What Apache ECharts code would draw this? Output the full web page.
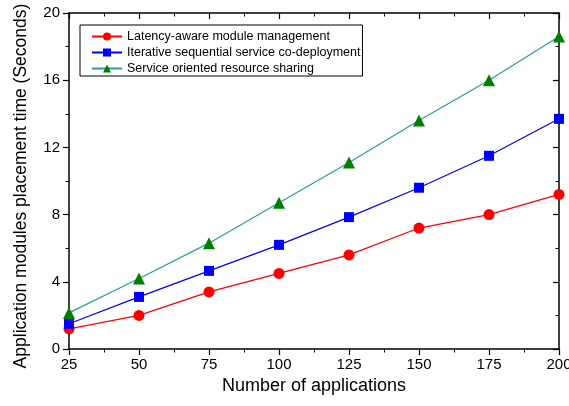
<!DOCTYPE html>
<html><head><meta charset="utf-8">
<script src="https://cdn.jsdelivr.net/npm/echarts@6/dist/echarts.min.js"></script>
<style>html,body{margin:0;padding:0;background:#fff}#c{width:569px;height:406px}</style>
</head><body><div id="c"></div>
<script>
var xValues = [25, 50, 75, 100, 125, 150, 175, 200];
var latency = [1.2, 2.0, 3.4, 4.5, 5.6, 7.2, 8.0, 9.2];
var iterative = [1.5, 3.1, 4.65, 6.2, 7.85, 9.6, 11.5, 13.7];
var serviceOriented = [2.15, 4.2, 6.3, 8.7, 11.1, 13.6, 16.0, 18.6];
var seriesNames = ['Latency-aware module management', 'Iterative sequential service co-deployment', 'Service oriented resource sharing'];

function pairs(v){ return xValues.map(function(x,i){return [x, v[i]];}); }
var font = 'Liberation Sans, Arial, sans-serif';
function axisStyle(inside){
  return {
    axisLine: {show: true, onZero: false, lineStyle: {color: '#000', width: 1.5}},
    axisTick: {show: true, inside: inside, length: 6, lineStyle: {color: '#000', width: 1.2}},
    minorTick: {show: true, splitNumber: 2, length: 3.5, lineStyle: {color: '#000', width: 1}},
    splitLine: {show: false}
  };
}
var chart = echarts.init(document.getElementById('c'));
chart.setOption({
  animation: false,
  grid: {left: 69, right: 10, top: 13, bottom: 57, containLabel: false, outerBoundsMode: 'none'},
  legend: {
    orient: 'vertical', left: 80, top: 25,
    data: seriesNames,
    itemWidth: 30, itemHeight: 10, itemGap: 3,
    padding: [5, 2, 1, 11],
    borderColor: '#000', borderWidth: 1,
    textStyle: {fontFamily: font, fontSize: 12.5, color: '#000'}
  },
  xAxis: [
    Object.assign({type: 'value', min: 25, max: 200, interval: 25,
      name: 'Number of applications', nameLocation: 'middle', nameGap: 28,
      nameTextStyle: {fontFamily: font, fontSize: 18, color: '#000'},
      axisLabel: {fontFamily: font, fontSize: 15, color: '#000', margin: 8}}, axisStyle(false)),
    Object.assign({type: 'value', min: 25, max: 200, interval: 25, position: 'top',
      axisLabel: {show: false}}, axisStyle(true))
  ],
  yAxis: [
    Object.assign({type: 'value', min: 0, max: 20, interval: 4,
      name: 'Application modules placement time (Seconds)', nameLocation: 'middle', nameGap: 39,
      nameTextStyle: {fontFamily: font, fontSize: 17.5, color: '#000', padding: [0, 10, 0, 0]},
      axisLabel: {fontFamily: font, fontSize: 15, color: '#000', margin: 9}}, axisStyle(false)),
    Object.assign({type: 'value', min: 0, max: 20, interval: 4, position: 'right',
      axisLabel: {show: false}}, axisStyle(true))
  ],
  series: [
    {name: seriesNames[0], type: 'line', data: pairs(latency), symbol: 'circle', symbolSize: 11,
     lineStyle: {color: '#ff0000', width: 1.2}, itemStyle: {color: '#ff0000'}},
    {name: seriesNames[1], type: 'line', data: pairs(iterative), symbol: 'rect', symbolSize: 10,
     lineStyle: {color: '#0000ff', width: 1.2}, itemStyle: {color: '#0000ff'}},
    {name: seriesNames[2], type: 'line', data: pairs(serviceOriented), symbol: 'triangle', symbolSize: 12,
     lineStyle: {color: '#2a9d9d', width: 1.2}, itemStyle: {color: '#008000'}}
  ]
});
</script></body></html>
